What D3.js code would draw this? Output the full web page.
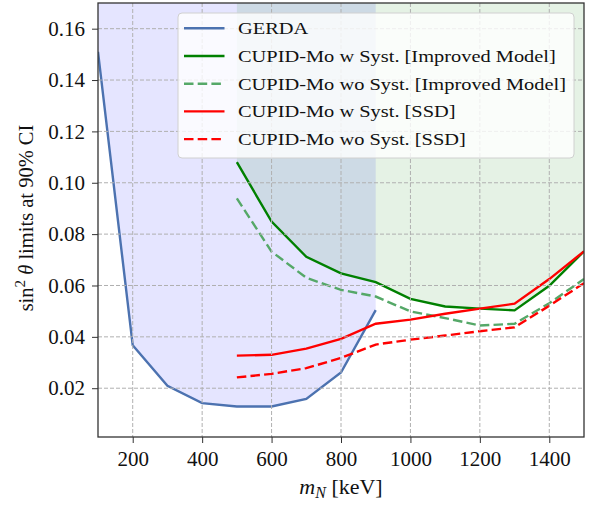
<!DOCTYPE html>
<html>
<head>
<meta charset="utf-8">
<script src="https://cdn.jsdelivr.net/npm/d3@7"></script>
<style>
  body { margin: 0; background: #fff; }
  svg { display: block; }
  text { font-family: "Liberation Serif", "DejaVu Serif", serif; fill: #111; }
</style>
</head>
<body>
<div id="chart"></div>
<script>
// masses (keV)
const massGerda = [100, 200, 300, 400, 500, 600, 700, 800, 900]
const massCupid = [500, 600, 700, 800, 900, 1000, 1100, 1200, 1300, 1400, 1500]

// sin^2 theta limits
const gerda = [0.151, 0.0367, 0.0209, 0.0142, 0.0129, 0.0129, 0.0158, 0.0261, 0.0504]
const improvedSyst = [0.1080, 0.0849, 0.0712, 0.0647, 0.0613, 0.0548, 0.0518, 0.0510, 0.0503, 0.0599, 0.0733]
const improvedNoSyst = [0.0939, 0.0732, 0.0630, 0.0583, 0.0557, 0.0499, 0.0473, 0.0444, 0.0451, 0.0531, 0.0625]
const ssdSyst = [0.0327, 0.0330, 0.0354, 0.0392, 0.0451, 0.0467, 0.0490, 0.0510, 0.0529, 0.0625, 0.0733]
const ssdNoSyst = [0.0242, 0.0256, 0.0278, 0.0318, 0.0370, 0.0389, 0.0405, 0.0422, 0.0437, 0.0521, 0.0609]

const xTicks = [200, 400, 600, 800, 1000, 1200, 1400]
const yTicks = [0.02, 0.04, 0.06, 0.08, 0.10, 0.12, 0.14, 0.16]

const WIDTH = 589
const HEIGHT = 505
const margin = { top: 3, right: 5, bottom: 68, left: 98 }
const FONT = '"Liberation Serif", "DejaVu Serif", serif'

const svg = d3.select("#chart")
    .append("svg")
    .attr("width", WIDTH)
    .attr("height", HEIGHT)
    .attr("font-family", FONT)

const x = d3.scaleLinear().domain([100, 1500]).range([margin.left, WIDTH - margin.right])
const y = d3.scaleLinear().domain([0.001, 0.17]).range([HEIGHT - margin.bottom, margin.top])

svg.append("clipPath").attr("id", "clip")
    .append("rect")
    .attr("x", margin.left).attr("y", margin.top)
    .attr("width", WIDTH - margin.left - margin.right)
    .attr("height", HEIGHT - margin.top - margin.bottom)

const plot = svg.append("g").attr("clip-path", "url(#clip)")

// excluded regions (filled above the curves)
const area = d3.area().x(d => x(d[0])).y0(y(0.17)).y1(d => y(d[1]))

plot.append("path")
    .datum(d3.zip(massGerda, gerda))
    .attr("d", area)
    .attr("fill", "blue")
    .attr("fill-opacity", 0.1)

plot.append("path")
    .datum(d3.zip(massCupid, improvedSyst))
    .attr("d", area)
    .attr("fill", "green")
    .attr("fill-opacity", 0.1)

// grid
const grid = svg.append("g")
grid.selectAll(".gx").data(xTicks).enter().append("line")
    .attr("x1", d => x(d)).attr("x2", d => x(d))
    .attr("y1", margin.top).attr("y2", HEIGHT - margin.bottom)
grid.selectAll(".gy").data(yTicks).enter().append("line")
    .attr("y1", d => y(d)).attr("y2", d => y(d))
    .attr("x1", margin.left).attr("x2", WIDTH - margin.right)
grid.selectAll("line")
    .attr("stroke", "#b0b0b0")
    .attr("stroke-width", 1)
    .attr("stroke-dasharray", "4,2")

// curves
const line = d3.line().x(d => x(d[0])).y(d => y(d[1]))

const series = [
    { name: "GERDA", xs: massGerda, ys: gerda, color: "#4c72b0", dash: null },
    { name: "CUPID-Mo w Syst. [Improved Model]", xs: massCupid, ys: improvedSyst, color: "green", dash: null },
    { name: "CUPID-Mo wo Syst. [Improved Model]", xs: massCupid, ys: improvedNoSyst, color: "#55a868", dash: "9.5,4.2" },
    { name: "CUPID-Mo w Syst. [SSD]", xs: massCupid, ys: ssdSyst, color: "red", dash: null },
    { name: "CUPID-Mo wo Syst. [SSD]", xs: massCupid, ys: ssdNoSyst, color: "red", dash: "9.5,4.2" }
]

plot.selectAll(".curve")
    .data(series)
    .enter()
    .append("path")
    .attr("d", s => line(d3.zip(s.xs, s.ys)))
    .attr("fill", "none")
    .attr("stroke", s => s.color)
    .attr("stroke-width", 2.4)
    .attr("stroke-dasharray", s => s.dash)

// axes
const xAxis = svg.append("g")
    .attr("transform", `translate(0,${HEIGHT - margin.bottom})`)
    .call(d3.axisBottom(x).tickValues(xTicks).tickSize(6).tickPadding(8).tickFormat(d3.format("d")))
const yAxis = svg.append("g")
    .attr("transform", `translate(${margin.left},0)`)
    .call(d3.axisLeft(y).tickValues(yTicks).tickSize(6).tickPadding(7).tickFormat(d3.format(".2f")))

for (const ax of [xAxis, yAxis]) {
    ax.attr("font-family", FONT)
    ax.select(".domain").remove()
    ax.selectAll(".tick line").attr("stroke", "#333").attr("stroke-width", 1)
    ax.selectAll(".tick text").attr("font-size", 21).attr("fill", "#111")
}

// frame
svg.append("rect")
    .attr("x", margin.left).attr("y", margin.top)
    .attr("width", WIDTH - margin.left - margin.right)
    .attr("height", HEIGHT - margin.top - margin.bottom)
    .attr("fill", "none")
    .attr("stroke", "#333")
    .attr("stroke-width", 1.3)

// axis labels
const xl = svg.append("text")
    .attr("x", (margin.left + WIDTH - margin.right) / 2)
    .attr("y", 494)
    .attr("text-anchor", "middle")
    .attr("font-size", 22)
xl.append("tspan").attr("font-style", "italic").text("m")
xl.append("tspan").attr("font-style", "italic").attr("font-size", 16).attr("dy", 4).text("N")
xl.append("tspan").attr("dy", -4).text(" [keV]")

const yl = svg.append("text")
    .attr("transform", `translate(33,218) rotate(-90)`)
    .attr("text-anchor", "middle")
    .attr("font-size", 20.5)
yl.append("tspan").text("sin")
yl.append("tspan").attr("font-size", 15).attr("dy", -8).text("2")
yl.append("tspan").attr("dy", 8).text(" ")
yl.append("tspan").attr("font-style", "italic").text("θ")
yl.append("tspan").text(" limits at 90% CI")

// legend
const legend = svg.append("g")
legend.append("rect")
    .attr("x", 178).attr("y", 13)
    .attr("width", 396).attr("height", 145)
    .attr("rx", 4)
    .attr("fill", "white")
    .attr("fill-opacity", 0.8)
    .attr("stroke", "#d0d0d0")

const rows = legend.selectAll(".row")
    .data(series)
    .enter()
    .append("g")
    .attr("transform", (d, i) => `translate(0,${28.3 + i * 27.7})`)

rows.append("line")
    .attr("x1", 184).attr("x2", 224.5)
    .attr("stroke", s => s.color)
    .attr("stroke-width", 2.4)
    .attr("stroke-dasharray", s => s.dash)

const labels = rows.append("text")
    .attr("x", 238)
    .attr("y", 6)
    .attr("font-size", 17)
    .text(s => s.name)

// widen the legend labels a bit to get the width of the original typeface
const longest = d3.max(labels.nodes(), n => n.getComputedTextLength())
const k = 328 / longest
labels.each(function () {
    const w = this.getComputedTextLength()
    d3.select(this).attr("textLength", w * k).attr("lengthAdjust", "spacingAndGlyphs")
})
</script>
</body>
</html>
